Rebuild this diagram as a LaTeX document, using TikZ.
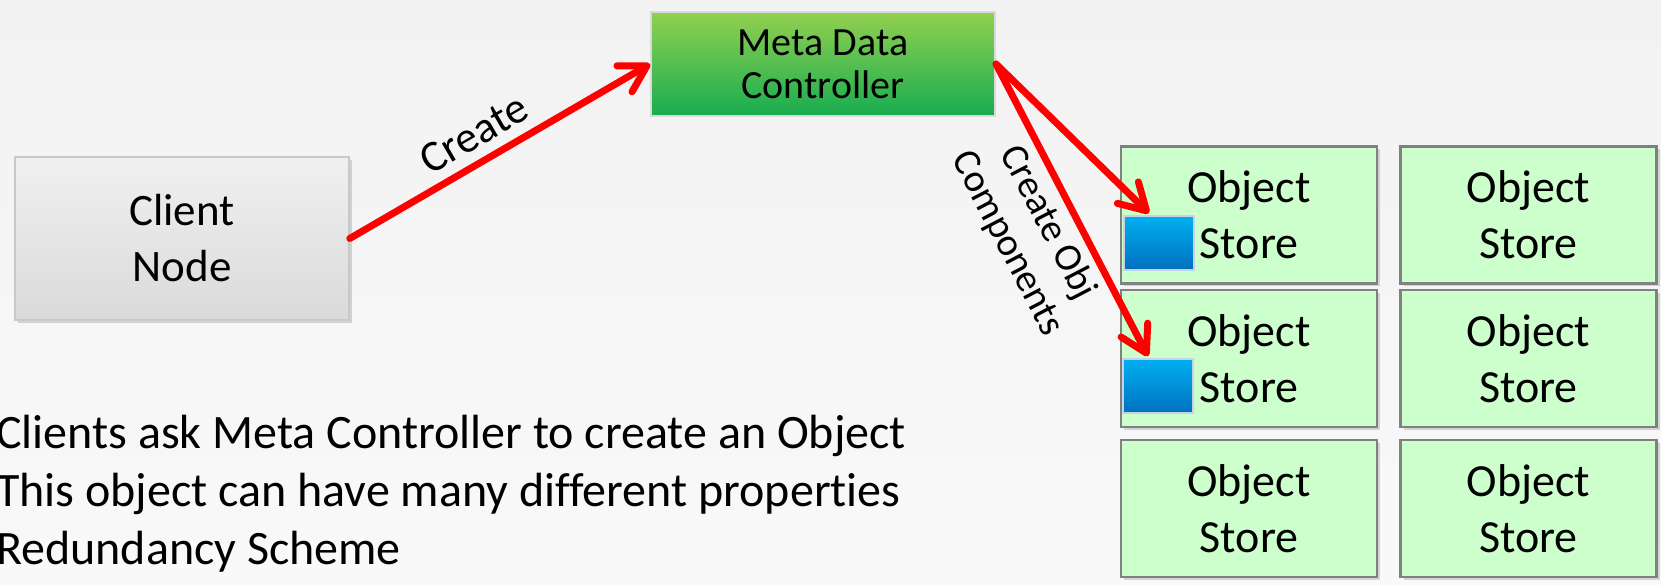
\documentclass[tikz,border=0pt]{standalone}
\usepackage{fontspec}
\setmainfont{Carlito}[Ligatures=NoCommon]
\usetikzlibrary{arrows.meta,shadows}

\definecolor{bgtop}{RGB}{242,242,242}
\definecolor{bgbottom}{RGB}{249,249,249}
\definecolor{metatop}{RGB}{146,208,80}
\definecolor{metabottom}{RGB}{24,172,80}
\definecolor{metaline}{RGB}{217,217,217}
\definecolor{clienttop}{RGB}{240,240,240}
\definecolor{clientbottom}{RGB}{218,218,218}
\definecolor{clientline}{RGB}{200,200,200}
\definecolor{storefill}{RGB}{204,255,204}
\definecolor{storeline}{RGB}{128,128,128}
\definecolor{chunktop}{RGB}{0,176,240}
\definecolor{chunkbottom}{RGB}{0,112,192}
\definecolor{chunkline}{RGB}{200,210,230}

\begin{document}
\begin{tikzpicture}[x=1pt, y=1pt,
    shade/.style={drop shadow={shadow xshift=3pt, shadow yshift=-3pt, opacity=0.3}},
    clientbox/.style={draw=clientline, line width=1.5pt, top color=clienttop, bottom color=clientbottom,
        minimum width=334pt, minimum height=163pt, align=center, inner sep=0pt,
        font=\fontsize{45}{56}\selectfont, shade},
    metabox/.style={draw=metaline, line width=2pt, top color=metatop, bottom color=metabottom,
        minimum width=344pt, minimum height=104pt, align=center, inner sep=0pt,
        font=\fontsize{40}{43}\selectfont},
    storebox/.style={draw=storeline, line width=2.5pt, fill=storefill,
        minimum width=256pt, minimum height=137pt, align=center, inner sep=0pt,
        font=\fontsize{46}{56}\selectfont, shade},
    chunk/.style={draw=chunkline, line width=1.5pt, top color=chunktop, bottom color=chunkbottom,
        minimum width=70pt, minimum height=54pt, inner sep=0pt},
    redarrow/.style={draw=red, line width=7pt, line cap=round, line join=round,
        -{Straight Barb[length=26pt, width=30pt, round]}},
]
    % Page background
    \useasboundingbox (0,0) rectangle (1661,584);
    \fill[top color=bgtop, bottom color=bgbottom] (0,0) rectangle (1661,584);

    % Client and controller
    \node[clientbox] (client) at (182,345.5) {Client\\Node};
    \node[metabox] (meta) at (823,520) {Meta Data\\Controller};

    % Grid of object stores
    \node[storebox] (store11) at (1249,369) {Object\\Store};
    \node[storebox] (store21) at (1249,225.5) {Object\\Store};
    \node[storebox] (store31) at (1249,75.5) {Object\\Store};
    \node[storebox] (store12) at (1528.5,369) {Object\\Store};
    \node[storebox] (store22) at (1528.5,225.5) {Object\\Store};
    \node[storebox] (store32) at (1528.5,75.5) {Object\\Store};

    % Object components placed in the stores
    \node[chunk] (blob1) at (1159,341) {};
    \node[chunk] (blob2) at (1158,198) {};

    % Requests
    \draw[redarrow] (client.east) -- node[sloped, above=7pt, pos=0.46, font=\fontsize{44}{50}\selectfont] (createlbl) {Create} (meta.west);
    \draw[redarrow] (meta.east) -- ([xshift=-10pt, yshift=2pt]blob1.north);
    \draw[redarrow] (meta.east) -- node[sloped, below=4pt, pos=0.5, align=center, font=\fontsize{39}{45}\selectfont] (objlbl) {Create Obj\\Components} ([xshift=-10pt, yshift=2pt]blob2.north);

    % Notes
    \node[anchor=north west, align=left, inner sep=0pt, font=\fontsize{48}{58}\selectfont] (notes) at (-4,169)
        {Clients ask Meta Controller to create an Object\\This object can have many different properties\\Redundancy Scheme};
\end{tikzpicture}
\end{document}
